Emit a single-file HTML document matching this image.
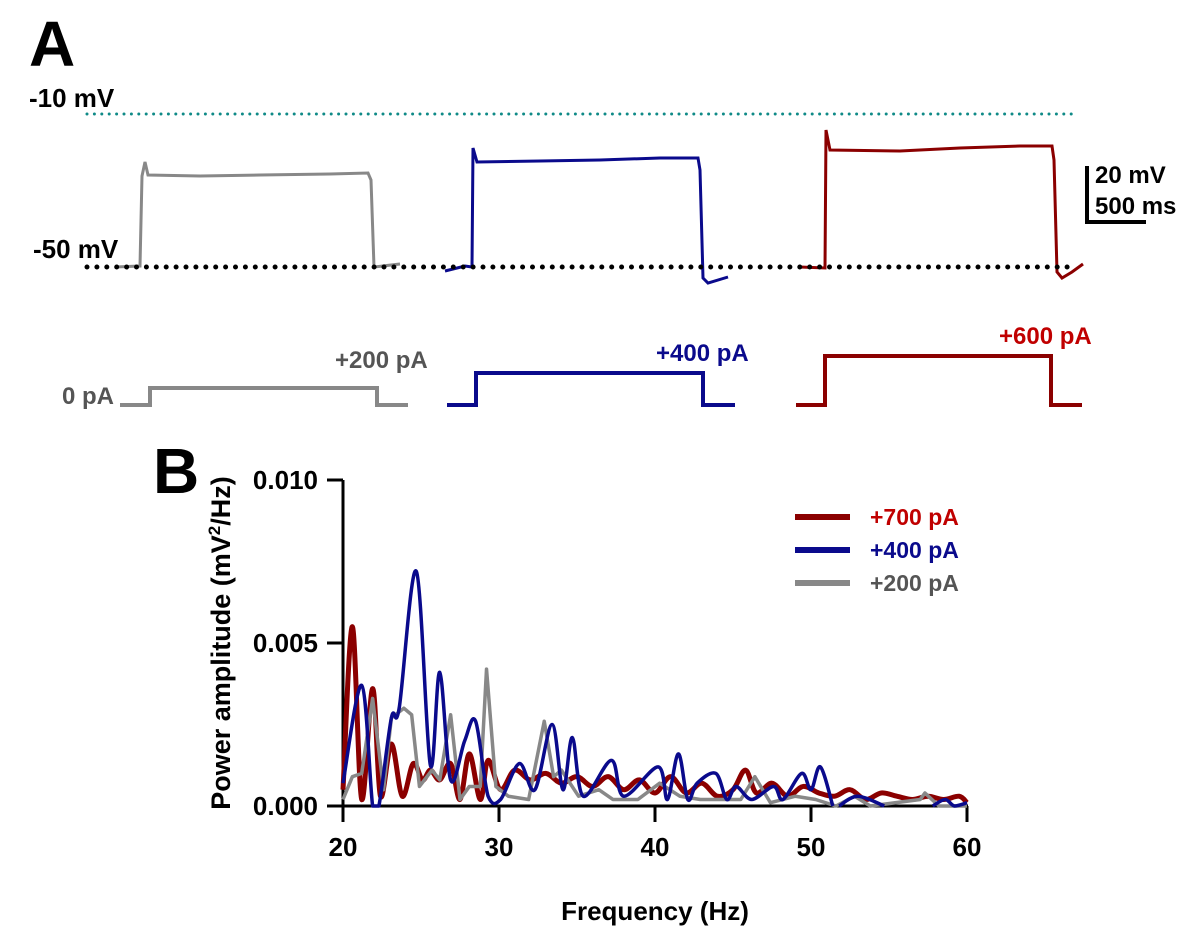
<!DOCTYPE html>
<html><head><meta charset="utf-8"><style>
body{margin:0;background:#fff;}
svg{display:block;font-family:"Liberation Sans",Arial,sans-serif;font-weight:bold;}
</style></head><body>
<svg id="fig" width="1200" height="927" viewBox="0 0 1200 927">
<g>
<text x="29" y="66" font-size="64">A</text>
<text x="29" y="107" font-size="26">-10 mV</text>
<text x="33" y="258" font-size="26">-50 mV</text>
<line x1="87" y1="114" x2="1073" y2="114" stroke="#0f8a87" stroke-width="3" stroke-dasharray="0 7.4" stroke-linecap="round"/>
<polyline fill="none" stroke="#888" stroke-width="3" points="115,267 140,266 142,176 145,162 148,175 200,176 260,175 330,174 368,173 371,180 374,267 400,264"/>
<polyline fill="none" stroke="#0a0a8c" stroke-width="3" points="445,271 465,266 472,267 473,148 477,162 540,161 600,160 660,158 698,158 700,170 703,278 708,283 728,277"/>
<polyline fill="none" stroke="#8b0000" stroke-width="3" points="800,267 825,268 826,130 830,150 900,151 960,148 1020,146 1052,146 1054,160 1057,272 1062,278 1072,272 1083,264"/>
<line x1="87" y1="267" x2="1073" y2="267" stroke="#000" stroke-width="5" stroke-dasharray="0 9.9" stroke-linecap="round"/>
<g>
<polyline fill="none" stroke="#000" stroke-width="4" points="1087,166 1087,222 1146,222"/>
<text x="1095" y="183" font-size="24">20 mV</text>
<text x="1095" y="214" font-size="24">500 ms</text>
</g>
<polyline fill="none" stroke="#888" stroke-width="4" points="120,405 150,405 150,388 377,388 377,405 408,405"/>
<polyline fill="none" stroke="#0a0a8c" stroke-width="4" points="447,405 476,405 476,373 703,373 703,405 735,405"/>
<polyline fill="none" stroke="#8b0000" stroke-width="4" points="796,405 825,405 825,356 1051,356 1051,405 1082,405"/>
<text x="62" y="404" font-size="24" fill="#555">0 pA</text>
<text x="335" y="368" font-size="24" fill="#555">+200 pA</text>
<text x="656" y="361" font-size="24" fill="#0a0a8c">+400 pA</text>
<text x="999" y="344" font-size="24" fill="#c00000">+600 pA</text>
</g>
<g>
<text x="153" y="493" font-size="64">B</text>
<g id="axes"></g>
<g id="series"></g>
<g>
<line x1="795" y1="517" x2="850" y2="517" stroke="#8b0000" stroke-width="6"/>
<text x="870" y="525" font-size="23" fill="#c00000">+700 pA</text>
<line x1="795" y1="550" x2="850" y2="550" stroke="#0a0a8c" stroke-width="6"/>
<text x="870" y="558" font-size="23" fill="#0a0a8c">+400 pA</text>
<line x1="795" y1="583" x2="850" y2="583" stroke="#888" stroke-width="6"/>
<text x="870" y="591" font-size="23" fill="#555">+200 pA</text>
</g>
</g>
</svg>
<script>
const xTicks=[20,30,40,50,60];
const yTicks=[0,0.005,0.010];
const yTickLabels=["0.000","0.005","0.010"];
const freqBlue=[20,21.2,21.9,22.3,23.1,23.6,24.7,25.6,26.2,26.9,27.8,28.5,29.3,30.1,31.3,32.3,33.4,34.1,34.7,35.4,37.2,38,40.2,40.8,41.5,42.1,42.7,43.9,44.6,45.2,46.2,47.6,48.2,49.4,50,50.6,51.4];
const valBlue=[0.0007,0.0037,0,0,0.0027,0.003,0.0072,0.00125,0.0041,0.0008,0.002,0.0026,0.0003,0.0002,0.0013,0.0005,0.0025,0.0005,0.0021,0.0003,0.0014,0.0003,0.0012,0.0002,0.0016,0.0002,0.0007,0.001,0.0002,0.0006,0.0002,0.0006,0.0002,0.001,0.0005,0.0012,0];
const freqBlue2=[51.8,53,54.7];
const valBlue2=[0,0.0003,0];
const freqBlue3=[57.8,58.6,59.2,60];
const valBlue3=[0,0.0002,0,0.0001];
const freqRed=[20,20.6,21.2,21.9,22.4,23.1,23.8,24.5,25.1,25.6,26.2,26.9,27.5,28.1,28.8,29.3,30.1,31,32,33,34,35,36,37,38,39,40,41,42,43,44,45,45.8,46.5,47.5,48.5,49.5,50.5,51.5,52.5,53.5,54.5,55.5,56.5,57.5,58.5,59.5,60];
const valRed=[0.0005,0.0055,0.0002,0.0036,0.0003,0.0019,0.0003,0.0013,0.0008,0.0011,0.0008,0.0013,0.0002,0.0016,0.0002,0.0014,0.0005,0.0011,0.0008,0.001,0.0007,0.0009,0.0006,0.0009,0.0005,0.0008,0.0004,0.0009,0.0004,0.0007,0.0003,0.0005,0.0011,0.0004,0.0007,0.0003,0.0006,0.0004,0.0003,0.0005,0.0002,0.0004,0.0003,0.0002,0.0003,0.0002,0.0003,0.0001];
const freqGray=[20,20.6,21.2,21.9,22.6,23.1,23.9,24.4,24.9,25.7,26.2,26.9,27.5,28.1,28.8,29.2,29.8,30.6,31.9,32.9,33.5,34,35.1,36.4,37.3,38.9,40.3,41.6,42.9,45.5,46.4,47.4,49,50.3,51.6,52.8,53.8,57,57.3,58.2,60];
const valGray=[0.0002,0.0009,0.001,0.0033,0.0005,0.0027,0.003,0.0028,0.0006,0.0011,0.0008,0.0028,0.0002,0.0006,0.0006,0.0042,0.0006,0.0003,0.0002,0.0026,0.0009,0.0011,0.0003,0.0005,0.0002,0.0002,0.0007,0.0003,0.0002,0.0002,0.0009,0.0001,0.0003,0.0002,0,0.0003,0,0.0002,0.0004,0,0];
const NS='http://www.w3.org/2000/svg';
const xS=f=>343+(f-20)*(967-343)/40;
const yS=v=>806-v*(806-480)/0.010;
function mk(tag,attrs,parent){const e=document.createElementNS(NS,tag);for(const k in attrs)e.setAttribute(k,attrs[k]);parent.appendChild(e);return e;}
const ax=document.getElementById('axes');
const yAxis=mk('line',{x1:343,y1:480,x2:343,y2:808,stroke:'#000','stroke-width':3},ax);


const xAxis=mk('line',{x1:341,y1:806,x2:968,y2:806,stroke:'#000','stroke-width':3},ax);


xTicks.forEach(t=>{
 const l=mk('line',{x1:xS(t),y1:806,x2:xS(t),y2:822,stroke:'#000','stroke-width':3},ax);
 
 
 const tx=mk('text',{x:xS(t),y:856,'font-size':26,'text-anchor':'middle'},ax);tx.textContent=t;
 
 
});
yTicks.forEach((t,i)=>{
 const l=mk('line',{x1:327,y1:yS(t),x2:343,y2:yS(t),stroke:'#000','stroke-width':3},ax);
 
 
 const tx=mk('text',{x:318,y:yS(t)+9,'font-size':26,'text-anchor':'end'},ax);tx.textContent=yTickLabels[i];
 
 
});
const xt=mk('text',{x:655,y:920,'font-size':26,'text-anchor':'middle'},ax);xt.textContent='Frequency (Hz)';


const yt=mk('text',{x:0,y:0,'font-size':27,'text-anchor':'middle',transform:'translate(230,643) rotate(-90)'},ax);
yt.innerHTML='Power amplitude (mV<tspan dy="-10" font-size="17">2</tspan><tspan dy="10">/Hz)</tspan>';


function smoothPath(fs,vs){
 const p=fs.map((f,i)=>[xS(f),yS(vs[i])]);
 const cl=y=>Math.min(y,806);
 let d='M'+p[0][0]+','+p[0][1];
 for(let i=0;i<p.length-1;i++){
  const p0=p[i-1]||p[i],p1=p[i],p2=p[i+1],p3=p[i+2]||p2;
  const c1=[p1[0]+(p2[0]-p0[0])/6,cl(p1[1]+(p2[1]-p0[1])/6)];
  const c2=[p2[0]-(p3[0]-p1[0])/6,cl(p2[1]-(p3[1]-p1[1])/6)];
  d+=` C${c1[0]},${c1[1]} ${c2[0]},${c2[1]} ${p2[0]},${p2[1]}`;
 }
 return d;
}
function linePath(fs,vs){return fs.map((f,i)=>(i?'L':'M')+xS(f)+','+yS(vs[i])).join(' ');}
const sg=document.getElementById('series');
const red=mk('path',{d:smoothPath(freqRed,valRed),fill:'none',stroke:'#8b0000','stroke-width':5,'stroke-linejoin':'round'},sg);


const gray=mk('path',{d:linePath(freqGray,valGray),fill:'none',stroke:'#888','stroke-width':3.5,'stroke-linejoin':'round'},sg);


[[freqBlue,valBlue],[freqBlue2,valBlue2],[freqBlue3,valBlue3]].forEach(s=>{
 const b=mk('path',{d:smoothPath(s[0],s[1]),fill:'none',stroke:'#0a0a8c','stroke-width':3.5,'stroke-linejoin':'round'},sg);
 
 
});
</script>
</body></html>
